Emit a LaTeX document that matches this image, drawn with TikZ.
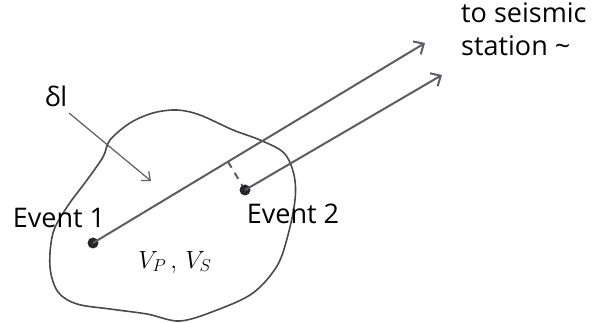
\documentclass[tikz,border=0pt]{standalone}
\usepackage{fontspec}
\setmainfont{Open Sans}
\usetikzlibrary{arrows.meta,calc}
\definecolor{linegray}{HTML}{5A5E63}
\definecolor{blobgray}{HTML}{4A4A4A}
\tikzset{
  ray/.style={draw=linegray,line width=2pt,-{Straight Barb[length=8pt,width=15pt,line width=2pt]}},
  pointer/.style={draw=linegray,line width=1.2pt,-{Straight Barb[length=7pt,width=12pt,line width=1.2pt]}},
  evdot/.style={circle,fill=black!85,inner sep=0pt,minimum size=11pt},
  lbl/.style={font=\fontsize{27}{32}\selectfont,text=black,inner sep=0pt}
}
\begin{document}
\begin{tikzpicture}[x=1pt,y=-1pt]
\useasboundingbox (0,0) rectangle (592,323);
% region
\draw[blobgray,line width=1.6pt] plot[smooth cycle,tension=0.55] coordinates {
 (110,140) (130,123) (153,113) (177,110) (200,115) (233,130) (260,140) (284,153)
 (294,175) (295,200) (288,235) (277,266) (253,293) (217,310) (180,321) (147,314)
 (110,309) (77,304) (58,292) (50,267) (53,233) (67,207) (87,180) (103,157)};
% events
\node[evdot] (e1) at (93,243) {};
\node[evdot] (e2) at (245,190) {};
\coordinate (t1) at (425,43);
\coordinate (t2) at (442,75);
\draw[ray] (e1.center) -- (t1);
\draw[ray] (e2.center) -- (t2);
\coordinate (foot) at ($(e1.center)!(e2.center)!(t1)$);
\draw[linegray,line width=2pt,dash pattern=on 7pt off 6pt] (foot) -- ($(foot)!0.85!(e2.center)$);
% labels
\node[lbl] (dl) at (56,96) {δl};
\coordinate (dltip) at (151,181);
\draw[pointer] (69,113) -- (dltip);
\node[lbl] (ev1) at (59,218) {Event 1};
\node[lbl] (ev2) at (293,214) {Event 2};
\node[lbl,font=\fontsize{23}{27}\selectfont] (vel) at (175,262) {$V_P\,,\,V_S$};
\node[lbl,align=left,anchor=north west,font=\fontsize{27}{33}\selectfont] (st) at (461,2) {to seismic\\station \textasciitilde};
\end{tikzpicture}
\end{document}
